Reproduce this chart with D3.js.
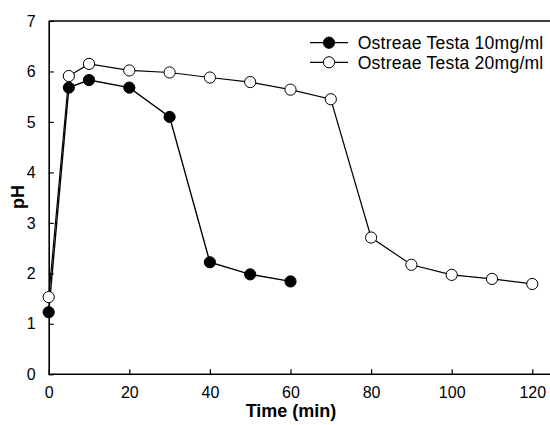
<!DOCTYPE html>
<html><head><meta charset="utf-8">
<script src="https://cdn.jsdelivr.net/npm/d3@7"></script>
<style>body{margin:0;background:#fff;} svg{display:block;}</style>
</head><body>
<script>
const times10 = [0, 5, 10, 20, 30, 40, 50, 60];
const ph10 = [1.23, 5.68, 5.83, 5.68, 5.10, 2.22, 1.98, 1.84];
const times20 = [0, 5, 10, 20, 30, 40, 50, 60, 70, 80, 90, 100, 110, 120];
const ph20 = [1.53, 5.91, 6.15, 6.02, 5.98, 5.88, 5.79, 5.64, 5.45, 2.71, 2.17, 1.97, 1.89, 1.79];
const xTicks = [0, 20, 40, 60, 80, 100, 120];
const yTicks = [0, 1, 2, 3, 4, 5, 6, 7];
const seriesNames = ["Ostreae Testa 10mg/ml", "Ostreae Testa 20mg/ml"];

const W = 550, H = 425;
const svg = d3.select("body").append("svg").attr("width", W).attr("height", H);
const x = d3.scaleLinear().domain([0, 120]).range([48.7, 532.3]);
const y = d3.scaleLinear().domain([0, 7]).range([374.3, 21]);
const font = "Arial, 'Liberation Sans', sans-serif";

// frame top line (extends to right edge)
svg.append("line").attr("x1", x(0)).attr("x2", W).attr("y1", y(7)).attr("y2", y(7))
  .attr("stroke", "#000").attr("stroke-width", 1.6);

// x axis
const xAxis = d3.axisBottom(x).tickValues(xTicks).tickFormat(d3.format("d"))
  .tickSizeInner(-5).tickSizeOuter(0).tickPadding(12);
const gx = svg.append("g").attr("transform", `translate(0,${y(0)})`).call(xAxis);
gx.select(".domain").remove();
gx.append("line").attr("x1", x(0)).attr("x2", W).attr("stroke", "#000").attr("stroke-width", 1.6);
gx.selectAll(".tick line").attr("stroke-width", 1.2);
gx.selectAll("text").attr("font-family", font).attr("font-size", 16).attr("fill", "#000");

// y axis
const yAxis = d3.axisLeft(y).tickValues(yTicks).tickFormat(d3.format("d"))
  .tickSizeInner(-5).tickSizeOuter(0).tickPadding(13);
const gy = svg.append("g").attr("transform", `translate(${x(0)},0)`).call(yAxis);
gy.select(".domain").attr("stroke-width", 1.6);
gy.selectAll(".tick line").attr("stroke-width", 1.2);
gy.selectAll("text").attr("font-family", font).attr("font-size", 16).attr("fill", "#000");

// axis titles
svg.append("text").attr("x", 291).attr("y", 417).attr("text-anchor", "middle")
  .attr("font-family", font).attr("font-size", 18).attr("font-weight", "bold").text("Time (min)");
svg.append("text").attr("transform", "translate(24,197) rotate(-90)").attr("text-anchor", "middle")
  .attr("font-family", font).attr("font-size", 18).attr("font-weight", "bold").text("pH");

const line = d3.line().x(d => x(d[0])).y(d => y(d[1]));
const d10 = times10.map((t, i) => [t, ph10[i]]);
const d20 = times20.map((t, i) => [t, ph20[i]]);

svg.append("path").datum(d20).attr("d", line).attr("fill", "none").attr("stroke", "#000").attr("stroke-width", 1.2);
svg.append("path").datum(d10).attr("d", line).attr("fill", "none").attr("stroke", "#000").attr("stroke-width", 1.4);

svg.selectAll(".p20").data(d20).enter().append("circle")
  .attr("cx", d => x(d[0])).attr("cy", d => y(d[1])).attr("r", 5.6)
  .attr("fill", "#fff").attr("stroke", "#000").attr("stroke-width", 1);
svg.selectAll(".p10").data(d10).enter().append("circle")
  .attr("cx", d => x(d[0])).attr("cy", d => y(d[1])).attr("r", 5.6)
  .attr("fill", "#000").attr("stroke", "#000").attr("stroke-width", 1);

// legend
const leg = [{name: seriesNames[0], fill: "#000", y: 42.7}, {name: seriesNames[1], fill: "#fff", y: 62.3}];
leg.forEach(l => {
  svg.append("line").attr("x1", 310).attr("x2", 348).attr("y1", l.y).attr("y2", l.y)
    .attr("stroke", "#000").attr("stroke-width", 1.2);
  svg.append("circle").attr("cx", 329).attr("cy", l.y).attr("r", 5.6)
    .attr("fill", l.fill).attr("stroke", "#000").attr("stroke-width", 1);
  svg.append("text").attr("x", 357.7).attr("y", l.y + 6.2).attr("font-family", font)
    .attr("font-size", 17.6).attr("letter-spacing", 0.2).attr("fill", "#000").text(l.name);
});
</script>
</body></html>
